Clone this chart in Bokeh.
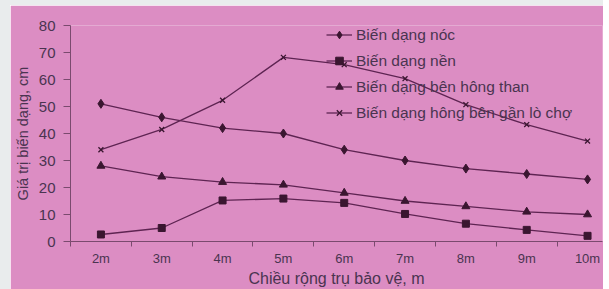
from bokeh.plotting import figure
from bokeh.models import Range1d, FixedTicker, Legend, LegendItem, ColumnDataSource, Spacer
from bokeh.layouts import column, row
from bokeh.embed import file_html
from bokeh.resources import INLINE

categories = ["2m", "3m", "4m", "5m", "6m", "7m", "8m", "9m", "10m"]
x_vals = [2, 3, 4, 5, 6, 7, 8, 9, 10]
noc = [51, 46, 42, 40, 34, 30, 27, 25, 23]
nen = [2.6, 5, 15.2, 15.9, 14.3, 10.2, 6.6, 4.3, 2.1]
hong_than = [28, 24, 22, 21, 18, 15, 13, 11, 10]
hong_lo_cho = [34, 41.5, 52.3, 68.2, 65.5, 60.3, 50.7, 43.3, 37.2]

labels = ["Biến dạng nóc", "Biến dạng nền", "Biến dạng bên hông than", "Biến dạng hông bên gần lò chợ"]

BG = "#dc8dc3"
LINE = "#5e2452"
MARK = "#3a1630"
TEXT = "#4a3450"
FONT = "Liberation Sans"
EDGE = "#e9eced"

p = figure(width=593, height=284, output_backend="svg", toolbar_location=None,
           x_range=Range1d(1.5, 10.246), y_range=Range1d(0, 80),
           min_border_left=60, min_border_right=1, min_border_top=20, min_border_bottom=47,
           background_fill_color=BG, border_fill_color=BG, outline_line_color=None)
p.grid.visible = False

src = ColumnDataSource(dict(x=x_vals, noc=noc, nen=nen, than=hong_than, lo=hong_lo_cho))

r1 = p.line("x", "noc", source=src, line_color=LINE, line_width=1.3)
m1 = p.scatter("x", "noc", source=src, marker="diamond", size=9, fill_color=MARK, line_color=MARK)
r2 = p.line("x", "nen", source=src, line_color=LINE, line_width=1.3)
m2 = p.scatter("x", "nen", source=src, marker="square", size=7, fill_color=MARK, line_color=MARK)
r3 = p.line("x", "than", source=src, line_color=LINE, line_width=1.3)
m3 = p.scatter("x", "than", source=src, marker="triangle", size=8, fill_color=MARK, line_color=MARK)
r4 = p.line("x", "lo", source=src, line_color=LINE, line_width=1.3)
m4 = p.scatter("x", "lo", source=src, marker="x", size=7, line_color=MARK, line_width=1.3)

# axes
xa = p.xaxis[0]
xa.ticker = FixedTicker(ticks=x_vals, minor_ticks=[v + 0.5 for v in x_vals[:-1]] + [1.5])
xa.major_label_overrides = {v: c for v, c in zip(x_vals, categories)}
xa.major_tick_out = 0
xa.major_tick_in = 0
xa.minor_tick_out = 5
xa.minor_tick_in = 0
xa.minor_tick_line_color = "#7a4a6e"
xa.major_label_standoff = 4
xa.major_label_text_font_size = "13px"
xa.axis_label = "Chiều rộng trụ bảo vệ, m"
xa.axis_label_standoff = 1
xa.axis_label_text_font_size = "16px"

ya = p.yaxis[0]
ya.ticker = FixedTicker(ticks=[0, 10, 20, 30, 40, 50, 60, 70, 80])
ya.major_tick_out = 7
ya.major_tick_in = 0
ya.minor_tick_out = 0
ya.minor_tick_in = 0
ya.major_label_standoff = 8
ya.major_label_text_font_size = "15px"
ya.axis_label = "Giá trị biến dạng, cm"
ya.axis_label_standoff = 5
ya.axis_label_text_font_size = "14.5px"

for ax in (xa, ya):
    ax.axis_line_color = "#7a4a6e"
    ax.major_tick_line_color = "#7a4a6e"
    ax.major_label_text_color = TEXT
    ax.major_label_text_font = FONT
    ax.axis_label_text_color = TEXT
    ax.axis_label_text_font = FONT
    ax.axis_label_text_font_style = "normal"

legend = Legend(items=[
    LegendItem(label=labels[0], renderers=[r1, m1]),
    LegendItem(label=labels[1], renderers=[r2, m2]),
    LegendItem(label=labels[2], renderers=[r3, m3]),
    LegendItem(label=labels[3], renderers=[r4, m4]),
], location=(256, 119), background_fill_alpha=0, border_line_color=None,
    glyph_width=26, glyph_height=19, label_height=19, spacing=7, padding=0, margin=0,
    label_standoff=4, label_text_font=FONT, label_text_font_size="15.5px", label_text_color=TEXT)
p.add_layout(legend, "center")

top_strip = Spacer(width=603, height=5, styles={"background-color": EDGE})
left_strip = Spacer(width=10, height=284, styles={"background-color": EDGE})
layout = column(top_strip, row(left_strip, p, spacing=0), spacing=0)

open("out.html", "w").write(file_html(layout, INLINE))
